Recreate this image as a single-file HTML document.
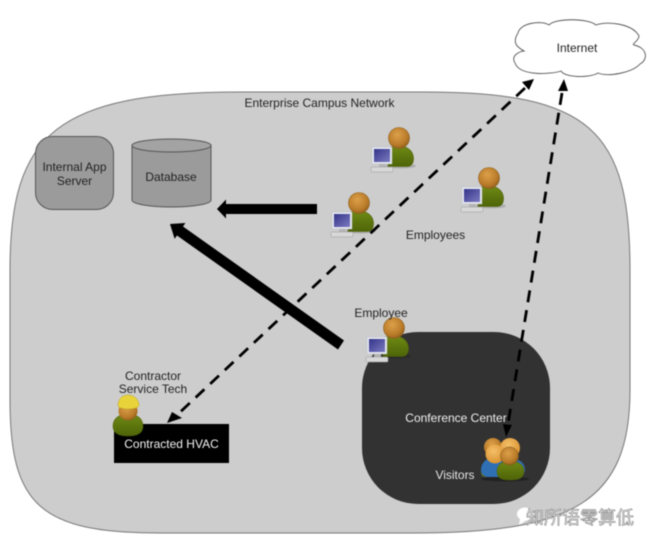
<!DOCTYPE html>
<html><head><meta charset="utf-8">
<style>
html,body{margin:0;padding:0;background:#fff;width:649px;height:547px;overflow:hidden}
svg{display:block;filter:blur(.45px)}
text{font-family:"Liberation Sans","Noto Sans CJK SC",sans-serif;font-size:12px;fill:#222;text-anchor:middle}
</style></head><body>
<svg width="649" height="547" viewBox="0 0 649 547" xmlns="http://www.w3.org/2000/svg">
<defs>
<radialGradient id="h" cx=".42" cy=".35" r=".7"><stop offset="0" stop-color="#dca04a"/><stop offset=".7" stop-color="#b87a28"/><stop offset="1" stop-color="#8a5a1c"/></radialGradient>
<radialGradient id="h2" cx=".42" cy=".35" r=".7"><stop offset="0" stop-color="#f4c06a"/><stop offset="1" stop-color="#d98f2c"/></radialGradient>
<linearGradient id="b" x1="0" y1="0" x2="0" y2="1"><stop offset="0" stop-color="#6f8a14"/><stop offset="1" stop-color="#4e6408"/></linearGradient>
<linearGradient id="s" x1="0" y1="0" x2="1" y2="1"><stop offset="0" stop-color="#34348a"/><stop offset="1" stop-color="#7a7ac0"/></linearGradient>
<g id="emp">
<ellipse cx="2" cy="28" rx="15" ry="2.500" fill="#000" opacity=".16"/>
<path d="M-10 10C-6 7 7 7 11 12C16 17 16 27 9 28.500L-11 28.500Z" fill="url(#b)" stroke="#4f6008" stroke-width=".6"/>
<circle r="10.500" fill="url(#h)" stroke="#8d5f1e" stroke-width=".6"/>
<rect x="-27" y="9" width="20" height="17" fill="#e6e8f0" stroke="#b8bbc4" stroke-width=".5"/>
<rect x="-25" y="11" width="16" height="13" fill="url(#s)"/>
<rect x="-20" y="26" width="7" height="3" fill="#b4b4b4"/>
<rect x="-28" y="29" width="22" height="5" rx="1" fill="#d8d8d8" stroke="#999" stroke-width=".5"/>
</g>
</defs>

<!-- campus -->
<path d="M10 270C10 135 55 92 240 92L425 92C590 92 630 130 630 270L630 390C630 500 575 533 415 533L160 533C40 533 10 505 10 400Z" fill="#cdcdcd" stroke="#777" stroke-width="1"/>
<text x="319.500" y="107">Enterprise Campus Network</text>

<!-- cloud -->
<path d="M518 33C520 23 541 20 549 25C555 18 588 18 596 25C606 21 632 23 639 36C639 41 631 44 634 45C648 48 648 60 640 64C632 73 608 77 598 73C590 78 565 78 561 71C553 74 520 77 515 63C510 55 521 51 524 51C519 48 511 44 518 33Z" fill="#fff" stroke="#555" stroke-width=".9"/>
<text x="577" y="52">Internet</text>

<!-- app server -->
<rect x="35.500" y="136.500" width="78" height="73" rx="17" fill="#9b9b9b" stroke="#555" stroke-width="1"/>
<text x="74.500" y="171">Internal App</text>
<text x="74.500" y="185">Server</text>

<!-- database -->
<path d="M132 145L132 200C132 204 150 207 171.500 207C193 207 211 204 211 200L211 145Z" fill="#9b9b9b" stroke="#555"/>
<ellipse cx="171.500" cy="145.500" rx="39.500" ry="6.500" fill="#a3a3a3" stroke="#555"/>
<text x="171" y="181">Database</text>

<!-- conference center -->
<rect x="362" y="332" width="188" height="172" rx="56" fill="#323232"/>
<text x="456" y="422" style="fill:#f0f0f0">Conference Center</text>
<text x="455" y="479" style="fill:#e4e4e4">Visitors</text>

<!-- HVAC -->
<rect x="114" y="424" width="115" height="39" fill="#000"/>
<text x="171.500" y="448" style="fill:#f2f2f2">Contracted HVAC</text>
<text x="153" y="380">Contractor</text>
<text x="153" y="393">Service Tech</text>

<!-- thick arrows -->
<path d="M317 204L226 204L226 199.500L217 209L226 218.500L226 214L317 214Z" fill="#000"/>
<path d="M344 340.500L183 226.500L185.400 223L170 224L174.600 238.800L177 235.500L338 349.500Z" fill="#000"/>

<!-- dashed lines -->
<g stroke="#000" stroke-width="2.800" fill="none" stroke-dasharray="12 8">
<line x1="525" y1="88" x2="176" y2="416"/>
<line x1="562" y1="93" x2="508" y2="424"/>
</g>
<g fill="#000">
<path d="M534 79L522 82L529 90Z"/>
<path d="M564 79L558 91L568 91Z"/>
<path d="M167 423L172 412L182 418Z"/>
<path d="M506 437L503 424L512 425Z"/>
</g>

<!-- employees -->
<use href="#emp" x="399" y="138"/>
<use href="#emp" x="359" y="203"/>
<use href="#emp" x="489" y="178"/>
<use href="#emp" x="394" y="328"/>
<text x="435.500" y="239">Employees</text>
<text x="381" y="317">Employee</text>

<!-- contractor -->
<ellipse cx="128" cy="436" rx="15" ry="1.500" fill="#000" opacity=".15"/>
<path d="M113 426C113 418 120 414 128 414C136 414 143 418 143 426C143 433 137 436 128 436C119 436 113 433 113 426Z" fill="url(#b)" stroke="#4f6008" stroke-width=".6"/>
<circle cx="128" cy="411" r="9.500" fill="url(#h)"/>
<path d="M118 406C118 399 122 395 128 395C134 395 139 399 139 406C136 410 120 410 118 406Z" fill="#e8d43a" stroke="#b8a428" stroke-width=".5"/>

<!-- visitors -->
<ellipse cx="505" cy="479" rx="24" ry="2.500" fill="#000" opacity=".3"/>
<path d="M481 472C481 464 487 460 493 460L503 476L486 477C482 477 481 475 481 472Z" fill="#5a7010"/>
<circle cx="493" cy="447" r="9" fill="url(#h)"/>
<path d="M481 470C481 461 489 457 496 457C510 457 525 458 525 470C525 474 521 477 518 477L488 477C484 477 481 474 481 470Z" fill="#2f6fb4"/>
<circle cx="510" cy="448" r="10" fill="url(#h2)"/>
<circle cx="495" cy="454" r="9.500" fill="url(#h2)"/>
<path d="M497 471C497 464 503 461 510 461C517 461 524 464 524 471C524 478 519 480 510 480C501 480 497 478 497 471Z" fill="url(#b)" stroke="#4f6008" stroke-width=".5"/>
<circle cx="509.500" cy="456" r="9" fill="url(#h)" stroke="#7a5418" stroke-width=".5"/>

<!-- watermark -->
<ellipse cx="525" cy="514" rx="8" ry="6.500" fill="#fff"/>
<path d="M520 519L519 525L527 520Z" fill="#fff"/>
<text x="580" y="524" style="font-size:18px;fill:#e8e8e8;stroke:#777;stroke-width:.5px">知所语零算低</text>
</svg>
</body></html>
